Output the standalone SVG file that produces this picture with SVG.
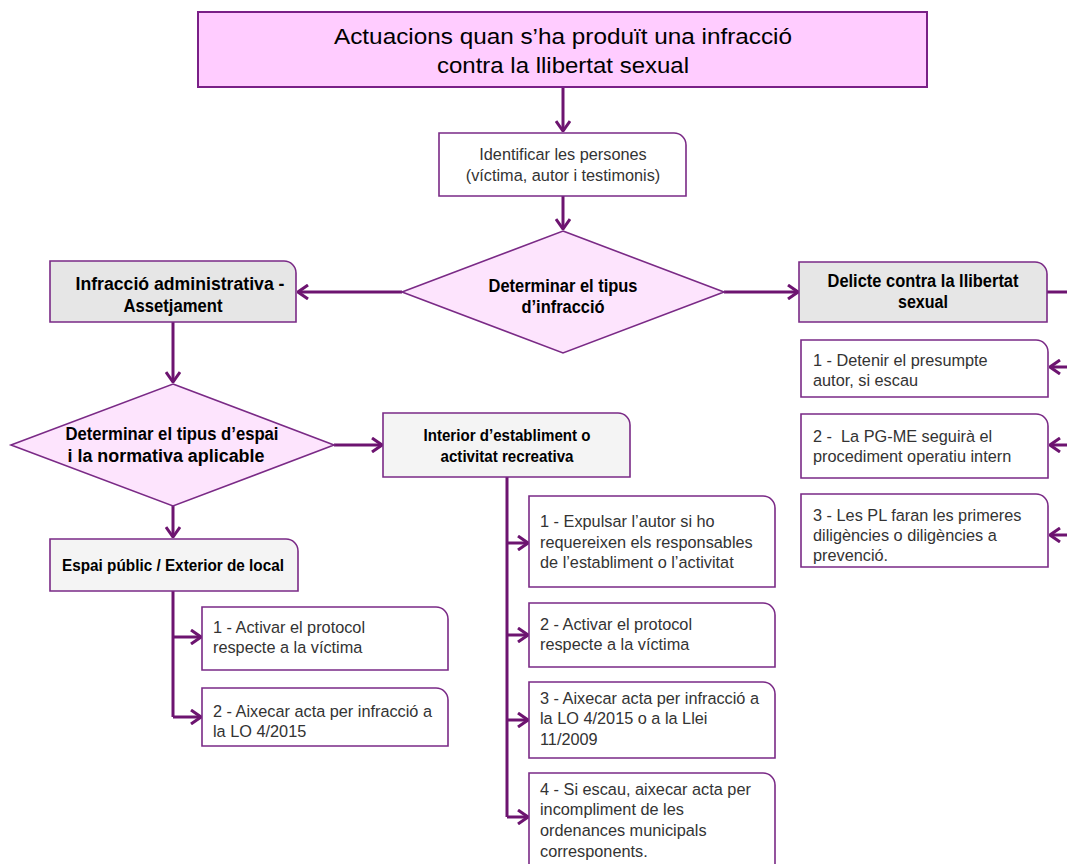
<svg xmlns="http://www.w3.org/2000/svg" width="1067" height="864" viewBox="0 0 1067 864">
<defs>
<style>
.title{font-family:"Liberation Sans",Arial,sans-serif;font-size:22.5px;fill:#000;text-anchor:middle}
.hd{font-family:"Liberation Sans",Arial,sans-serif;font-size:18px;font-weight:bold;fill:#000;text-anchor:middle}
.tx{font-family:"Liberation Sans",Arial,sans-serif;font-size:16.3px;fill:#333}
.txc{font-family:"Liberation Sans",Arial,sans-serif;font-size:16.3px;fill:#333;text-anchor:middle}
.box{fill:#fff;stroke:#7a2a86;stroke-width:1.6}
.gray{fill:#e6e6e6;stroke:#7a2a86;stroke-width:1.6}
.lgray{fill:#f4f4f4;stroke:#7a2a86;stroke-width:1.6}
.dia{fill:#fde4fd;stroke:#7a2a86;stroke-width:1.6}
.ln{fill:none;stroke:#6d1470;stroke-width:3}
</style>
<marker id="arr" viewBox="0 0 12 16" refX="11" refY="8" markerWidth="12" markerHeight="16" markerUnits="userSpaceOnUse" orient="auto">
<path d="M1,1 L11,8 L1,15" fill="none" stroke="#6d1470" stroke-width="3"/>
</marker>
</defs>

<g id="connectors">
<path class="ln" d="M563,88 V131" marker-end="url(#arr)"/>
<path class="ln" d="M563,196 V229" marker-end="url(#arr)"/>
<path class="ln" d="M402,292 H298" marker-end="url(#arr)"/>
<path class="ln" d="M724,292 H798" marker-end="url(#arr)"/>
<path class="ln" d="M1047,292 H1067"/>
<path class="ln" d="M1067,367 H1050" marker-end="url(#arr)"/>
<path class="ln" d="M1067,445 H1050" marker-end="url(#arr)"/>
<path class="ln" d="M1067,535 H1050" marker-end="url(#arr)"/>
<path class="ln" d="M173,322 V382" marker-end="url(#arr)"/>
<path class="ln" d="M334,445 H382" marker-end="url(#arr)"/>
<path class="ln" d="M173,506 V537" marker-end="url(#arr)"/>
<path class="ln" d="M173,591 V717"/>
<path class="ln" d="M173,637 H201" marker-end="url(#arr)"/>
<path class="ln" d="M173,717 H201" marker-end="url(#arr)"/>
<path class="ln" d="M507,477 V817"/>
<path class="ln" d="M507,543 H528" marker-end="url(#arr)"/>
<path class="ln" d="M507,635 H528" marker-end="url(#arr)"/>
<path class="ln" d="M507,720 H528" marker-end="url(#arr)"/>
<path class="ln" d="M507,817 H528" marker-end="url(#arr)"/>
</g>

<g id="title">
<rect x="198" y="12" width="729" height="75" fill="#ffccff" stroke="#7a1f87" stroke-width="2"/>
<text class="title" x="563" y="44" textLength="458" lengthAdjust="spacingAndGlyphs">Actuacions quan s’ha produït una infracció</text>
<text class="title" x="563" y="73" textLength="252" lengthAdjust="spacingAndGlyphs">contra la llibertat sexual</text>
</g>

<g id="identificar">
<path class="box" d="M439,133 H674 A12,12 0 0 1 686,145 V196 H439 Z"/>
<text class="txc" x="563" y="160">Identificar les persones</text>
<text class="txc" x="563" y="181">(víctima, autor i testimonis)</text>
</g>

<g id="determinar-infraccio">
<path class="dia" d="M563,231 L724,292 L563,353 L402,292 Z"/>
<text class="hd" x="563" y="292" textLength="149" lengthAdjust="spacingAndGlyphs">Determinar el tipus</text>
<text class="hd" x="563" y="313" textLength="83" lengthAdjust="spacingAndGlyphs">d’infracció</text>
</g>

<g id="infraccio-administrativa">
<path class="gray" d="M50,261 H284 A12,12 0 0 1 296,273 V322 H50 Z"/>
<text class="hd" x="180" y="290" textLength="209" lengthAdjust="spacingAndGlyphs">Infracció administrativa -</text>
<text class="hd" x="173" y="312" textLength="99" lengthAdjust="spacingAndGlyphs">Assetjament</text>
</g>

<g id="delicte">
<path class="gray" d="M799,262 H1035 A12,12 0 0 1 1047,274 V322 H799 Z"/>
<text class="hd" x="923" y="287" textLength="191" lengthAdjust="spacingAndGlyphs">Delicte contra la llibertat</text>
<text class="hd" x="923" y="308" textLength="50" lengthAdjust="spacingAndGlyphs">sexual</text>
</g>

<g id="delicte-1">
<path class="box" d="M801,340 H1036 A12,12 0 0 1 1048,352 V397 H801 Z"/>
<text class="tx" x="813" y="366">1 - Detenir el presumpte</text>
<text class="tx" x="813" y="386">autor, si escau</text>
</g>

<g id="delicte-2">
<path class="box" d="M801,414 H1036 A12,12 0 0 1 1048,426 V478 H801 Z"/>
<text class="tx" x="813" y="442" xml:space="preserve">2 -  La PG-ME seguirà el</text>
<text class="tx" x="813" y="462">procediment operatiu intern</text>
</g>

<g id="delicte-3">
<path class="box" d="M801,494 H1036 A12,12 0 0 1 1048,506 V567 H801 Z"/>
<text class="tx" x="813" y="521">3 - Les PL faran les primeres</text>
<text class="tx" x="813" y="541">diligències o diligències a</text>
<text class="tx" x="813" y="561">prevenció.</text>
</g>

<g id="determinar-espai">
<path class="dia" d="M173,384 L334,445 L173,506 L11,445 Z"/>
<text class="hd" x="172" y="440" textLength="213" lengthAdjust="spacingAndGlyphs">Determinar el tipus d’espai</text>
<text class="hd" x="166" y="462" textLength="197" lengthAdjust="spacingAndGlyphs">i la normativa aplicable</text>
</g>

<g id="interior">
<path class="lgray" d="M383,413 H618 A12,12 0 0 1 630,425 V477 H383 Z"/>
<text class="hd" x="507" y="441" style="font-size:16.5px" textLength="167" lengthAdjust="spacingAndGlyphs">Interior d’establiment o</text>
<text class="hd" x="507" y="462" style="font-size:16.5px" textLength="133" lengthAdjust="spacingAndGlyphs">activitat recreativa</text>
</g>

<g id="espai-public">
<path class="lgray" d="M50,539 H286 A12,12 0 0 1 298,551 V591 H50 Z"/>
<text class="hd" x="173" y="571" style="font-size:17px" textLength="222" lengthAdjust="spacingAndGlyphs">Espai públic / Exterior de local</text>
</g>

<g id="espai-1">
<path class="box" d="M202,607 H436 A12,12 0 0 1 448,619 V670 H202 Z"/>
<text class="tx" x="213" y="633">1 - Activar el protocol</text>
<text class="tx" x="213" y="653">respecte a la víctima</text>
</g>

<g id="espai-2">
<path class="box" d="M202,688 H436 A12,12 0 0 1 448,700 V746 H202 Z"/>
<text class="tx" x="213" y="717">2 - Aixecar acta per infracció a</text>
<text class="tx" x="213" y="737">la LO 4/2015</text>
</g>

<g id="interior-1">
<path class="box" d="M529,496 H763 A12,12 0 0 1 775,508 V587 H529 Z"/>
<text class="tx" x="540" y="527">1 - Expulsar l’autor si ho</text>
<text class="tx" x="540" y="548">requereixen els responsables</text>
<text class="tx" x="540" y="568">de l’establiment o l’activitat</text>
</g>

<g id="interior-2">
<path class="box" d="M529,603 H763 A12,12 0 0 1 775,615 V667 H529 Z"/>
<text class="tx" x="540" y="630">2 - Activar el protocol</text>
<text class="tx" x="540" y="650">respecte a la víctima</text>
</g>

<g id="interior-3">
<path class="box" d="M529,682 H763 A12,12 0 0 1 775,694 V758 H529 Z"/>
<text class="tx" x="540" y="704">3 - Aixecar acta per infracció a</text>
<text class="tx" x="540" y="724">la LO 4/2015 o a la Llei</text>
<text class="tx" x="540" y="745">11/2009</text>
</g>

<g id="interior-4">
<path class="box" d="M529,773 H763 A12,12 0 0 1 775,785 V880 H529 Z"/>
<text class="tx" x="540" y="795">4 - Si escau, aixecar acta per</text>
<text class="tx" x="540" y="815">incompliment de les</text>
<text class="tx" x="540" y="836">ordenances municipals</text>
<text class="tx" x="540" y="857">corresponents.</text>
</g>
</svg>
